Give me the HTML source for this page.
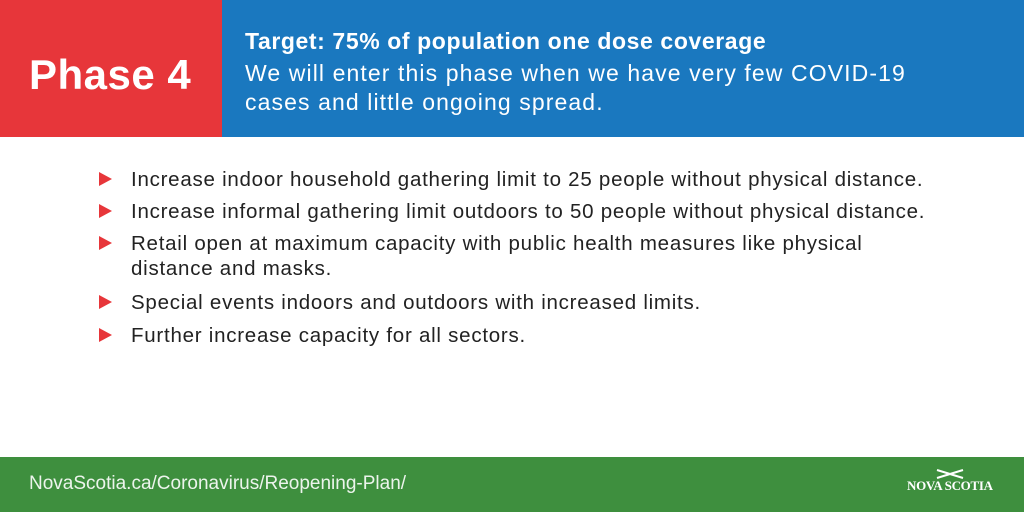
<!DOCTYPE html>
<html><head><style>
*{margin:0;padding:0}
body{width:1024px;height:512px;position:relative;background:#fff;font-family:"Liberation Sans",sans-serif;overflow:hidden}
.red{position:absolute;left:0;top:0;width:222px;height:137px;background:#e7363a}
.blue{position:absolute;left:222px;top:0;width:802px;height:137px;background:#1a78bf}
.ph{position:absolute;left:29px;top:51px;color:#fff;font-weight:bold;font-size:42px;letter-spacing:0.5px}
.t{position:absolute;left:245px;color:#fff;font-size:23px;white-space:nowrap}
.b{position:absolute;left:131px;font-size:20.5px;letter-spacing:0.75px;color:#222;white-space:nowrap}
.tri{position:absolute;left:99px;width:0;height:0;border-top:7px solid transparent;border-bottom:7px solid transparent;border-left:13px solid #e7363a}
.foot{position:absolute;left:0;top:457px;width:1024px;height:55px;background:#3e8f3e}
.url{position:absolute;left:29px;top:16px;color:#fff;font-size:19px;opacity:.9}
.logo{position:absolute;left:907px;top:21px;color:#fff;font-family:"Liberation Serif",serif;font-weight:bold;font-size:13px;letter-spacing:-0.3px}
</style></head><body>
<div class="red"></div><div class="blue"></div>
<div class="ph">Phase 4</div>
<div class="t" style="top:28px;font-weight:bold;letter-spacing:0.6px">Target: 75% of population one dose coverage</div>
<div class="t" style="top:60px;letter-spacing:1.1px">We will enter this phase when we have very few COVID-19</div>
<div class="t" style="top:89px;letter-spacing:1.1px">cases and little ongoing spread.</div>
<div class="tri" style="top:172px"></div><div class="b" style="top:168px">Increase indoor household gathering limit to 25 people without physical distance.</div>
<div class="tri" style="top:204px"></div><div class="b" style="top:200px">Increase informal gathering limit outdoors to 50 people without physical distance.</div>
<div class="tri" style="top:236px"></div><div class="b" style="top:232px">Retail open at maximum capacity with public health measures like physical</div>
<div class="b" style="top:257px">distance and masks.</div>
<div class="tri" style="top:295px"></div><div class="b" style="top:291px">Special events indoors and outdoors with increased limits.</div>
<div class="tri" style="top:328px"></div><div class="b" style="top:324px">Further increase capacity for all sectors.</div>
<div class="foot"><div class="url">NovaScotia.ca/Coronavirus/Reopening-Plan/</div>
<svg style="position:absolute;left:935px;top:11px" width="30" height="12"><path d="M2 2 L28 10 M28 2 L2 10" stroke="#fff" stroke-width="2"/></svg>
<div class="logo">NOVA SCOTIA</div></div>
</body></html>
